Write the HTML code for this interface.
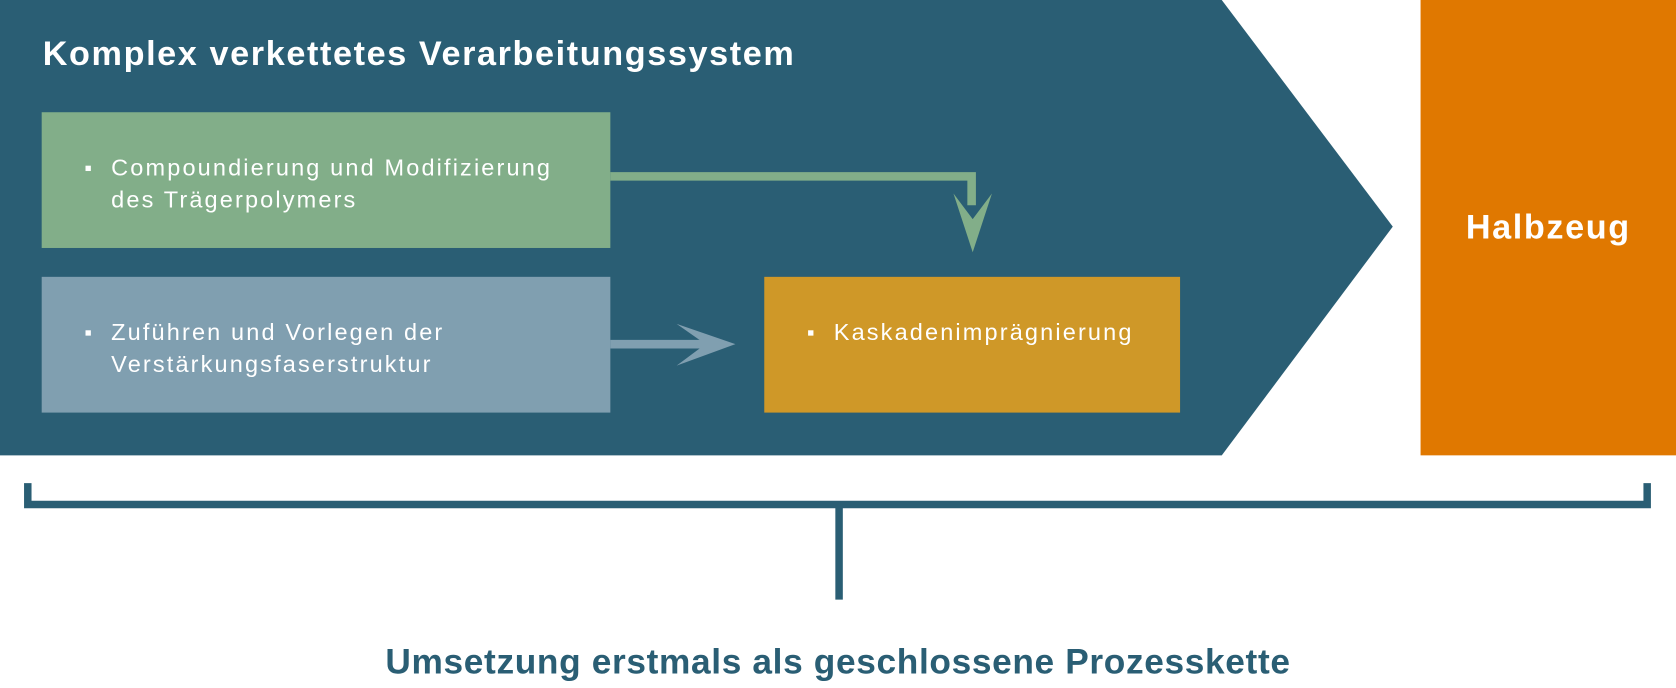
<!DOCTYPE html>
<html><head><meta charset="utf-8"><style>
html,body{margin:0;padding:0;background:#fff;}
#w{width:1676px;height:688px;overflow:hidden;position:relative;}
#s{position:absolute;left:0;top:0;width:1568px;height:644px;transform:scale(1.0689);transform-origin:0 0;font-family:"Liberation Sans",sans-serif;}
.t{position:absolute;color:#fff;}
.li{position:absolute;color:#fff;font-size:22px;line-height:30px;letter-spacing:2px;}
.li:before{content:"";position:absolute;left:-24px;top:13px;width:5px;height:5px;background:#fff;}
</style></head><body><div id="w"><div id="s">
<svg width="1568" height="644" style="position:absolute;left:0;top:0">
<polygon points="0,0 1143,0 1303,212 1143,426 0,426" fill="#2a5e74"/>
<rect x="1329" y="0" width="239" height="426" fill="#e07800"/>
<rect x="39" y="105" width="532" height="127" fill="#82ae89"/>
<rect x="39" y="259" width="532" height="127" fill="#809fb0"/>
<rect x="715" y="259" width="389" height="127" fill="#cf9828"/>
<polyline points="571,165 909,165 909,192" fill="none" stroke="#82ae89" stroke-width="8"/>
<polygon points="892,181 910,205 928,181 910,236" fill="#82ae89"/>
<line x1="571" y1="322" x2="675" y2="322" stroke="#809fb0" stroke-width="8"/>
<polygon points="633,303 688,322 633,342 660,322" fill="#809fb0"/>
<polyline points="26,452 26,472 1541,472 1541,452" fill="none" stroke="#2a5e74" stroke-width="7"/>
<line x1="785" y1="472" x2="785" y2="561" stroke="#2a5e74" stroke-width="7"/>
</svg>
<div class="t" style="left:40px;top:32px;font-size:32px;font-weight:bold;letter-spacing:1.5px;">Komplex verkettetes Verarbeitungssystem</div>
<div class="li" style="left:104px;top:142px;">Compoundierung und Modifizierung<br>des Trägerpolymers</div>
<div class="li" style="left:104px;top:296px;">Zuführen und Vorlegen der<br>Verstärkungsfaserstruktur</div>
<div class="li" style="left:780px;top:296px;">Kaskadenimprägnierung</div>
<div class="t" style="left:1329px;width:239px;text-align:center;top:194px;font-size:32px;font-weight:bold;letter-spacing:1.5px;">Halbzeug</div>
<div class="t" style="left:0;width:1568px;text-align:center;top:600px;font-size:33px;font-weight:bold;color:#2a5e74;letter-spacing:0.6px;">Umsetzung erstmals als geschlossene Prozesskette</div>
</div></div></body></html>
